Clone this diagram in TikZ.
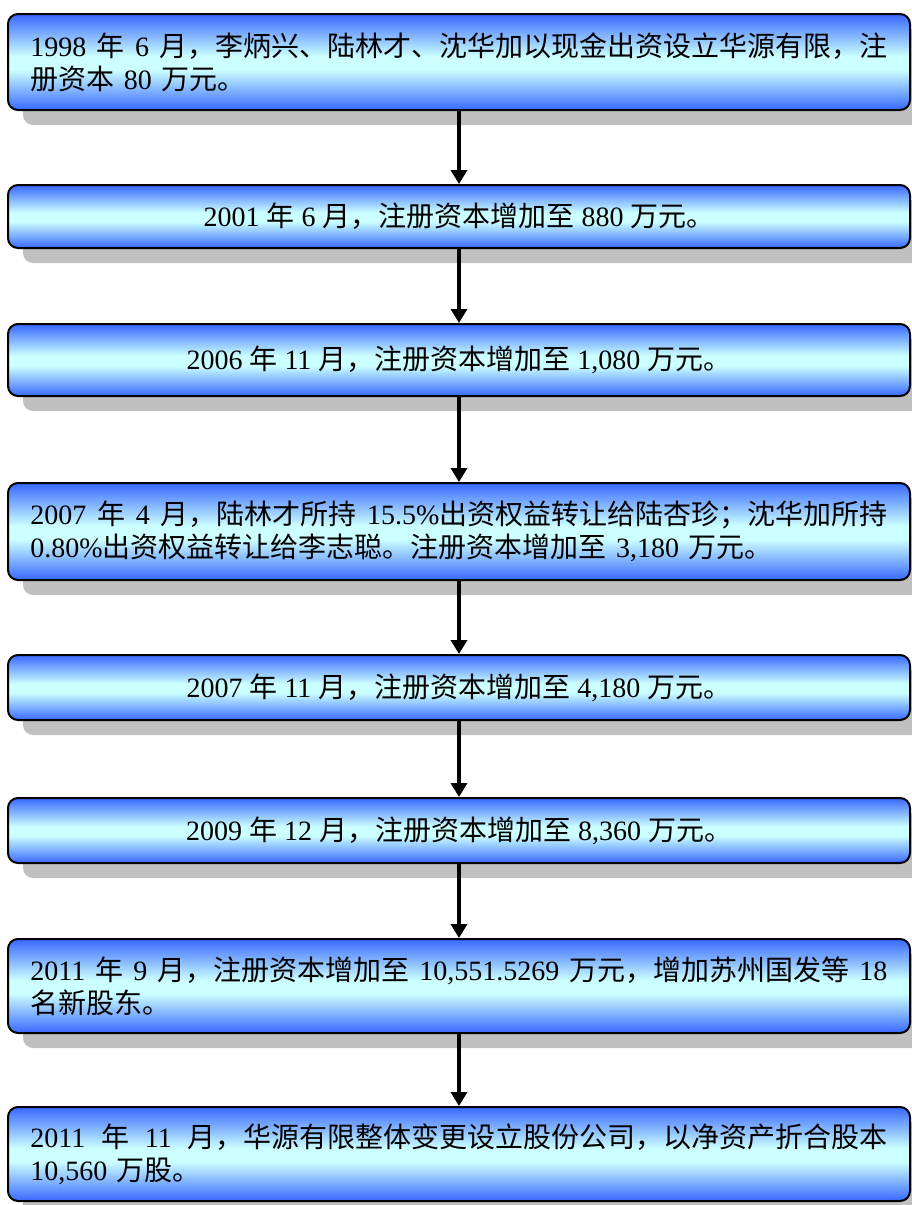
\documentclass[tikz,border=0pt]{standalone}
\usepackage{fontspec}
\setmainfont{Liberation Serif}
\newfontfamily\cjk{Noto Sans CJK SC}
\usetikzlibrary{arrows.meta,shadows}
\newcommand\C[1]{{\cjk #1}}
\newcommand\FL[1]{\makebox[857pt][s]{\spaceskip=0.25em plus 1fil\relax #1}}
\definecolor{boxblue}{RGB}{56,104,255}
\definecolor{boxcyan}{RGB}{204,255,255}
\definecolor{shadowgray}{RGB}{192,192,192}
\pgfdeclareverticalshading{evshade}{100bp}{color(0bp)=(boxblue); color(25bp)=(boxblue); color(46bp)=(boxcyan); color(53bp)=(boxcyan); color(75bp)=(boxblue); color(100bp)=(boxblue)}
\begin{document}
\begin{tikzpicture}[x=1pt,y=-1pt,
  evbox/.style={draw=black, line width=2pt, rounded corners=10pt,
    shading=evshade,
    minimum width=902pt, inner sep=0pt, font=\fontsize{28}{33}\selectfont,
    drop shadow={shadow xshift=15pt, shadow yshift=-15pt, fill=shadowgray, opacity=1}},
  twoline/.style={text width=857pt, align=left},
  flow/.style={line width=3.5pt, -{Triangle[width=16pt,length=14pt]}}]
\useasboundingbox (0,0) rectangle (912,1205);

\node[evbox, minimum height=96pt, twoline] (b1) at (459,62)
  {\FL{1998 \C{年} 6 \C{月，李炳兴、陆林才、沈华加以现金出资设立华源有限，注}}\\\C{册资本} 80 \C{万元。}};
\node[evbox, minimum height=63pt] (b2) at (459,216.5)
  {2001 \C{年} 6 \C{月，注册资本增加至} 880 \C{万元。}};
\node[evbox, minimum height=72pt] (b3) at (459,360)
  {2006 \C{年} 11 \C{月，注册资本增加至} 1,080 \C{万元。}};
\node[evbox, minimum height=97pt, twoline] (b4) at (459,531.5)
  {\FL{2007 \C{年} 4 \C{月，陆林才所持} 15.5\%\C{出资权益转让给陆杏珍；沈华加所持}}\\0.80\%\C{出资权益转让给李志聪。注册资本增加至} 3,180 \C{万元。}};
\node[evbox, minimum height=65pt] (b5) at (459,687.5)
  {2007 \C{年} 11 \C{月，注册资本增加至} 4,180 \C{万元。}};
\node[evbox, minimum height=65pt] (b6) at (459,830.5)
  {2009 \C{年} 12 \C{月，注册资本增加至} 8,360 \C{万元。}};
\node[evbox, minimum height=94pt, twoline] (b7) at (459,986)
  {\FL{2011 \C{年} 9 \C{月，注册资本增加至} 10,551.5269 \C{万元，增加苏州国发等} 18}\\\C{名新股东。}};
\node[evbox, minimum height=94pt, twoline] (b8) at (459,1154)
  {\FL{2011 \C{年} 11 \C{月，华源有限整体变更设立股份公司，以净资产折合股本}}\\10,560 \C{万股。}};

\draw[flow] (b1.south) -- (b2.north);
\draw[flow] (b2.south) -- (b3.north);
\draw[flow] (b3.south) -- (b4.north);
\draw[flow] (b4.south) -- (b5.north);
\draw[flow] (b5.south) -- (b6.north);
\draw[flow] (b6.south) -- (b7.north);
\draw[flow] (b7.south) -- (b8.north);
\end{tikzpicture}
\end{document}
